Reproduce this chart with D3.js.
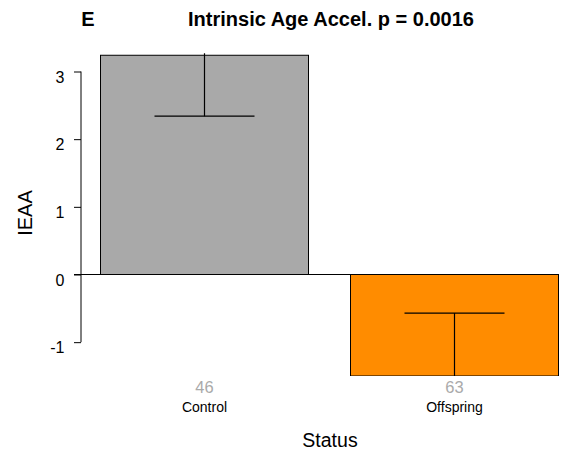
<!DOCTYPE html>
<html><head><meta charset="utf-8">
<script src="https://cdn.jsdelivr.net/npm/d3@7"></script>
<style>body{margin:0;background:#fff;} text{font-family:"Liberation Sans",Arial,sans-serif;}</style>
</head><body>
<svg id="c" width="566" height="452"></svg>
<script>
const categories = ["Control", "Offspring"];
const counts = ["46", "63"];
const means = [3.24, -1.50];
const errLow = [2.34, -2.43];
const errHigh = [4.14, -0.57];
const colors = ["#A9A9A9", "#FF8C00"];
const yTicks = [-1, 0, 1, 2, 3];
const yDomain = [-1.5, 3.27];

const svg = d3.select("#c");
const y = d3.scaleLinear().domain([0, 3]).range([274.5, 71.5]);
const bx = d3.scaleLinear().domain([0, 1]).range([204.5, 454.5]);
const bw = 208;

const clipTop = y(yDomain[1]), clipBot = y(yDomain[0]);
svg.append("clipPath").attr("id","pr").append("rect")
  .attr("x",0).attr("width",566).attr("y",clipTop).attr("height",clipBot-clipTop);

const g = svg.append("g").attr("clip-path","url(#pr)");
categories.forEach((c,i)=>{
  const y0 = y(0), y1 = y(means[i]);
  g.append("rect").attr("x",bx(i)-bw/2).attr("width",bw)
    .attr("y",Math.min(y0,y1)).attr("height",Math.abs(y1-y0))
    .attr("fill",colors[i]).attr("stroke","#000").attr("stroke-width",1);
});
svg.append("line").attr("x1",74).attr("x2",559).attr("y1",y(0)).attr("y2",y(0)).attr("stroke","#000");
categories.forEach((c,i)=>{
  const capVal = means[i] >= 0 ? errLow[i] : errHigh[i];
  const farVal = means[i] >= 0 ? errHigh[i] : errLow[i];
  g.append("line").attr("x1",bx(i)).attr("x2",bx(i)).attr("y1",y(capVal)).attr("y2",y(farVal)).attr("stroke","#000").attr("stroke-width",1.2);
  g.append("line").attr("x1",bx(i)-50).attr("x2",bx(i)+50).attr("y1",y(capVal)).attr("y2",y(capVal)).attr("stroke","#000").attr("stroke-width",1.2);
});

const yAxis = d3.axisLeft(y).tickValues(yTicks).tickSize(7).tickSizeOuter(0).tickFormat(d => String(d));
const ya = svg.append("g").attr("transform","translate(81,0)").call(yAxis);
ya.select(".domain").attr("d",`M0,${y(-1)}V${y(3)}`).attr("stroke","#000");
ya.selectAll(".tick line").attr("stroke","#000");
ya.selectAll(".tick text").attr("font-size",16).attr("font-family","Liberation Sans, Arial, sans-serif")
  .attr("fill","#000").attr("x",-16.5).attr("dy",null).attr("y",10.5);

categories.forEach((c,i)=>{
  svg.append("text").attr("x",bx(i)).attr("y",393).attr("text-anchor","middle").attr("font-size",16.5).attr("fill","#aaaaaa").text(counts[i]);
  svg.append("text").attr("x",bx(i)).attr("y",411.5).attr("text-anchor","middle").attr("font-size",14).attr("fill","#000").text(c);
});
svg.append("text").attr("x",330).attr("y",446.5).attr("text-anchor","middle").attr("font-size",19.5).text("Status");
svg.append("text").attr("transform","translate(31.7,213) rotate(-90)").attr("text-anchor","middle").attr("font-size",20).text("IEAA");

svg.append("text").attr("x",88).attr("y",25.7).attr("text-anchor","middle").attr("font-size",20).attr("font-weight","bold").text("E");
svg.append("text").attr("x",331).attr("y",25.7).attr("text-anchor","middle").attr("font-size",20).attr("font-weight","bold").text("Intrinsic Age Accel. p = 0.0016");
</script>
</body></html>
